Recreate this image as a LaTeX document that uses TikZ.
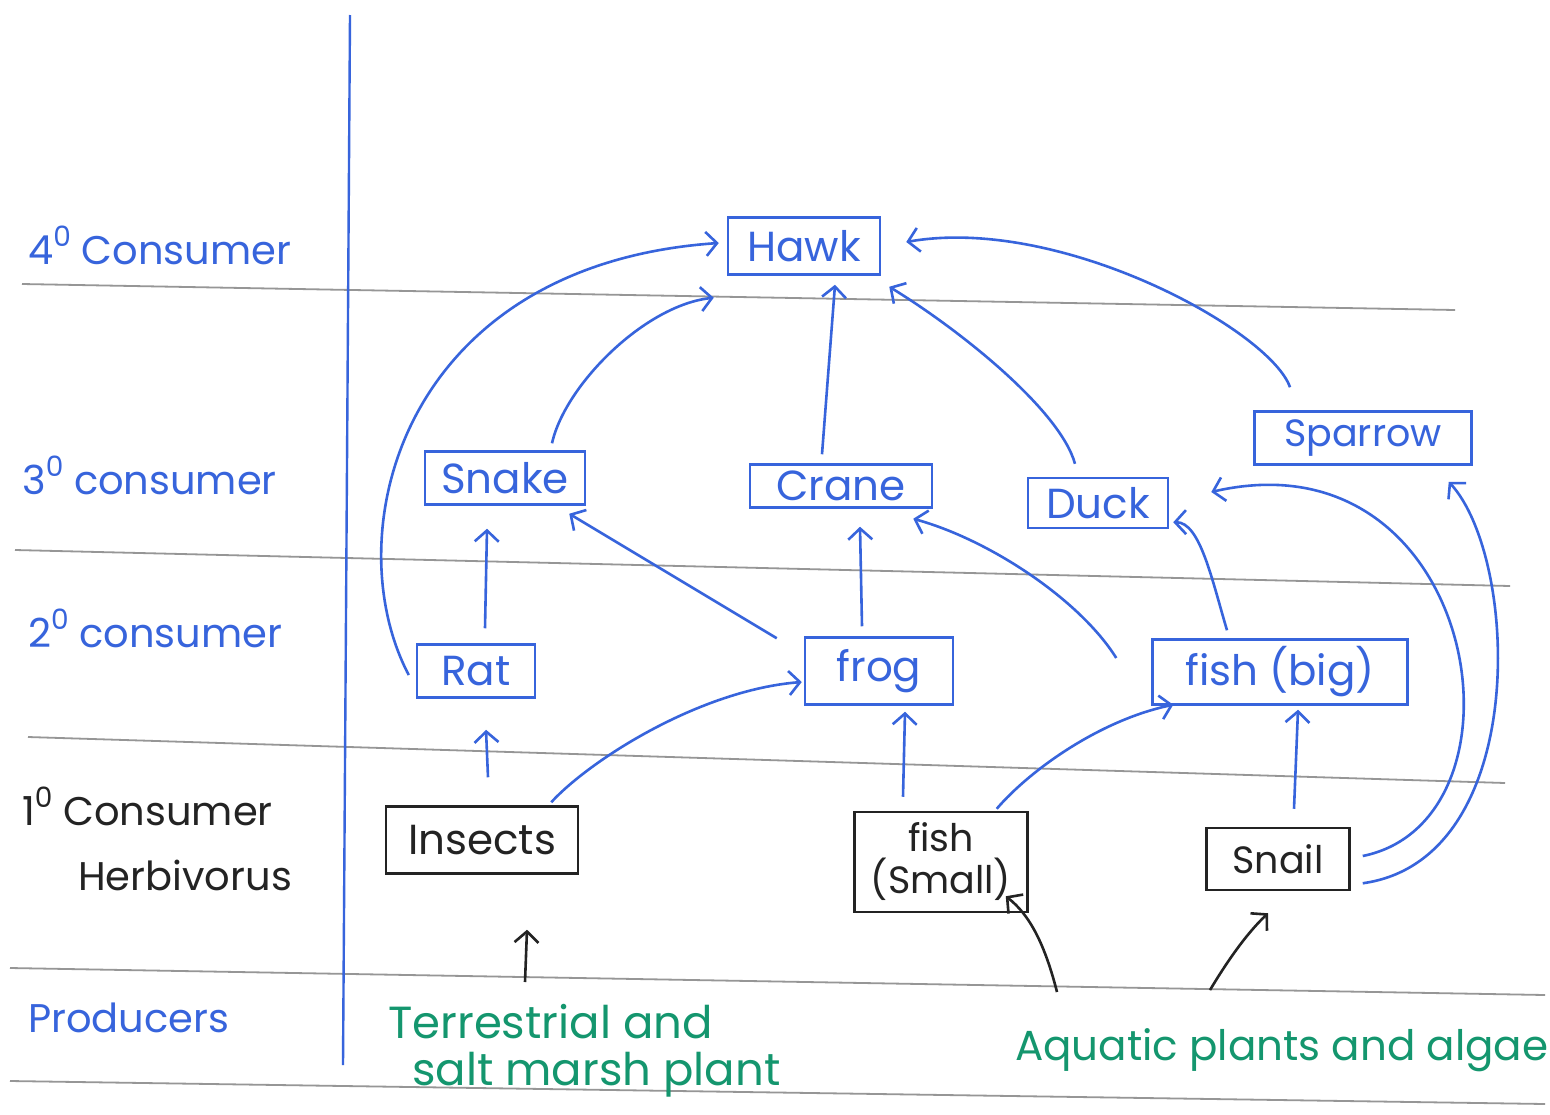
\documentclass[tikz,border=0pt]{standalone}
\usepackage{fontspec}
\setmainfont{Poppins}
\usetikzlibrary{arrows.meta,calc}
\definecolor{ink}{RGB}{55,100,220}
\definecolor{leaf}{RGB}{20,150,110}
\definecolor{pencil}{RGB}{35,35,35}
\definecolor{paperline}{RGB}{150,150,150}
% raised small zero for the trophic order marks
\newcommand\ordmark[1]{\raisebox{0.45em}{\fontsize{28}{28}\selectfont #1}}
\begin{document}
\begin{tikzpicture}[x=1pt,y=-1pt,
  box/.style={draw, line width=2.5pt, inner sep=0pt, font=\fontsize{42}{44}\selectfont},
  bluebox/.style={box, draw=ink, text=ink},
  blackbox/.style={box, draw=pencil, text=pencil},
  link/.style={draw=ink, line width=2.6pt, -{Straight Barb[length=11pt,width=24pt,line width=2.6pt]}},
  blink/.style={link, draw=pencil},
  level/.style={anchor=west, inner sep=0pt, font=\fontsize{40}{44}\selectfont},
  plants/.style={anchor=west, inner sep=0pt, text=leaf, font=\fontsize{42}{46}\selectfont},
  ruled/.style={draw=paperline, line width=1.8pt}]

% page
\fill[white] (0,0) rectangle (1550,1114);
\useasboundingbox (0,0) rectangle (1550,1114);

% ruled paper lines and margin
\draw[ruled] (22,284) -- (1455,310);
\draw[ruled] (15,550) -- (1510,586);
\draw[ruled] (28,737) -- (1505,783);
\draw[ruled] (10,968) -- (1545,995);
\draw[ruled] (10,1081) -- (1545,1104);
\draw[ink, line width=2.4pt] (350,15) -- (343,1065);

% trophic levels
\node[level, text=ink] (l4) at (28,245) {4\ordmark{0} Consumer};
\node[level, text=ink] (l3) at (22,475) {3\ordmark{0} consumer};
\node[level, text=ink] (l2) at (28,628) {2\ordmark{0} consumer};
\node[level, text=pencil] (l1) at (22,806) {1\ordmark{0} Consumer};
\node[level, text=pencil] (herb) at (78,875) {Herbivorus};
\node[level, text=ink] (prod) at (28,1018) {Producers};

% organisms
\node[bluebox, minimum width=152pt, minimum height=57pt] (hawk) at (804,246) {Hawk};
\node[bluebox, minimum width=160pt, minimum height=53pt] (snake) at (505,478) {Snake};
\node[bluebox, minimum width=182pt, minimum height=43pt] (crane) at (841,486) {Crane};
\node[bluebox, minimum width=140pt, minimum height=50pt] (duck) at (1098,503) {Duck};
\node[bluebox, minimum width=217pt, minimum height=53pt, font=\fontsize{38}{40}\selectfont] (sparrow) at (1363,438) {Sparrow};
\node[bluebox, minimum width=118pt, minimum height=53pt] (rat) at (476,671) {Rat};
\node[bluebox, minimum width=148pt, minimum height=67pt] (frog) at (879,671) {frog};
\node[bluebox, minimum width=255pt, minimum height=65pt] (fishbig) at (1280,672) {fish (big)};
\node[blackbox, minimum width=192pt, minimum height=67pt] (insects) at (482,840) {Insects};
\node[blackbox, minimum width=173pt, minimum height=100pt, align=center, font=\fontsize{38}{42}\selectfont] (fishsmall) at (941,862) {fish\\(Small)};
\node[blackbox, minimum width=143pt, minimum height=62pt, font=\fontsize{38}{40}\selectfont] (snail) at (1278,859) {Snail};

% producers
\node[plants, font=\fontsize{45}{48}\selectfont] (terr1) at (388,1022) {Terrestrial and};
\node[plants, font=\fontsize{45}{48}\selectfont] (terr2) at (412,1075) {salt marsh plant};
\node[plants] (aqua) at (1015,1050) {Aquatic plants and algae};

% who eats whom: into the hawk
\draw[link] ($(rat.west)+(-7,4)$) .. controls (335,535) and (400,265) .. ($(hawk.west)+(-8,-3)$);
\draw[link] ($(snake.north)+(47,-7)$) .. controls (565,385) and (645,305) .. ($(hawk.south west)+(-13,22)$);
\draw[link] ($(crane.north)+(-19,-9)$) -- ($(hawk.south)+(31,9)$);
\draw[link] ($(duck.north)+(-23,-13)$) .. controls (1060,410) and (960,330) .. ($(hawk.south east)+(8,11)$);
\draw[link] ($(sparrow.north)+(-73,-23)$) .. controls (1270,330) and (1060,215) .. ($(hawk.east)+(25,-4)$);

% into the third level
\draw[link] ($(rat.north)+(9,-15)$) -- ($(snake.south)+(-18,23)$);
\draw[link] ($(frog.north west)+(-27,2)$) -- ($(snake.south east)+(-17,8)$);
\draw[link] ($(frog.north)+(-17,-10)$) -- ($(crane.south)+(19,18)$);
\draw[link] ($(fishbig.west)+(-35,-14)$) .. controls (1080,600) and (990,540) .. ($(crane.south east)+(-20,10)$);
\draw[link] ($(fishbig.north)+(-53,-8)$) .. controls (1212,580) and (1200,522) .. ($(duck.south east)+(4,-7)$);
\draw[link] ($(snail.east)+(12,-3)$) .. controls (1540,820) and (1480,430) .. ($(duck.east)+(42,-11)$);
\draw[link] ($(snail.south east)+(12,-8)$) .. controls (1530,860) and (1520,560) .. ($(sparrow.south east)+(-24,16)$);

% into the second level
\draw[link] ($(insects.north)+(6,-28)$) -- ($(rat.south)+(10,31)$);
\draw[link] ($(insects.north east)+(-28,-3)$) .. controls (590,760) and (700,690) .. ($(frog.west)+(-2,11)$);
\draw[link] ($(fishsmall.north)+(-38,-14)$) -- ($(frog.south)+(26,6)$);
\draw[link] ($(fishsmall.north east)+(-32,-2)$) .. controls (1030,770) and (1100,720) .. ($(fishbig.south west)+(22,-1)$);
\draw[link] ($(snail.north)+(16,-18)$) -- ($(fishbig.south)+(18,4)$);

% plants to herbivores
\draw[blink] ($(terr1.west)+(137,-40)$) -- ($(insects.south)+(45,55)$);
\draw[blink] ($(aqua.west)+(42,-58)$) .. controls (1045,945) and (1030,915) .. ($(fishsmall.south east)+(-23,-17)$);
\draw[blink] ($(aqua.west)+(195,-60)$) .. controls (1225,965) and (1245,935) .. ($(snail.south)+(-10,22)$);
\end{tikzpicture}
\end{document}
